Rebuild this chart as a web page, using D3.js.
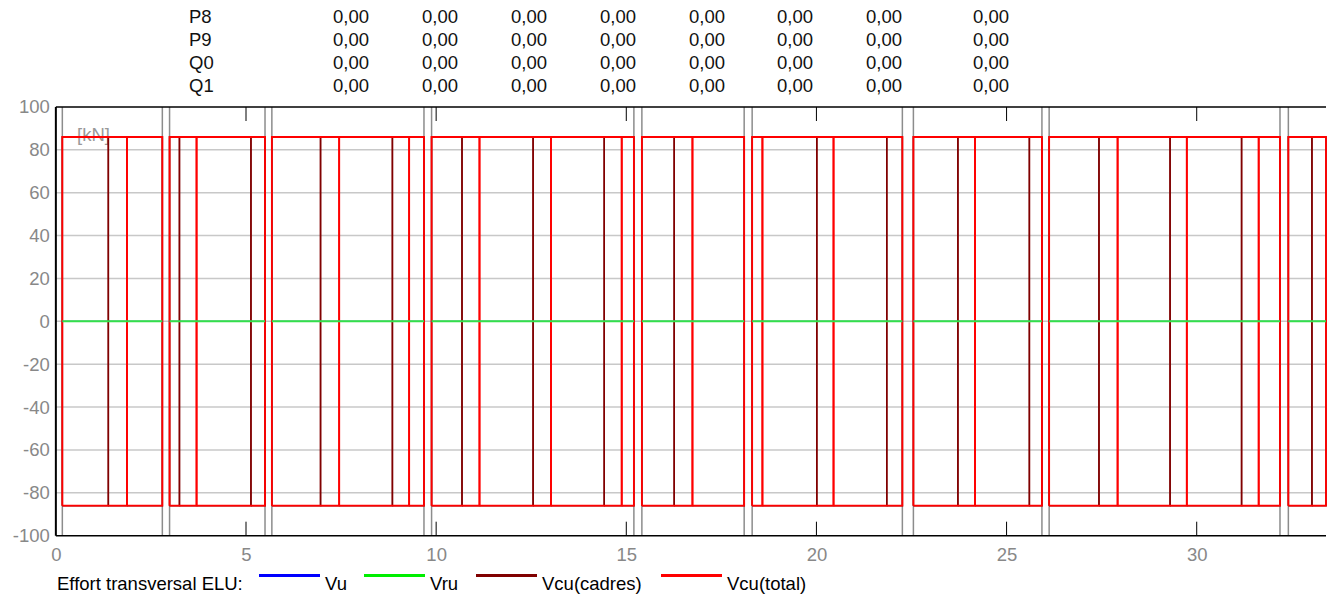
<!DOCTYPE html>
<html>
<head>
<meta charset="utf-8">
<script src="https://cdn.jsdelivr.net/npm/d3@7"></script>
<style>
  body { margin: 0; background: #fff; }
  svg { display: block; font-family: "Liberation Sans", Arial, sans-serif; }
</style>
</head>
<body>
<svg id="chart" width="1334" height="599"></svg>
<script>
// table above the chart
var tableRows = ["P8", "P9", "Q0", "Q1"];
var tableValues = [
  [0, 0, 0, 0, 0, 0, 0, 0],
  [0, 0, 0, 0, 0, 0, 0, 0],
  [0, 0, 0, 0, 0, 0, 0, 0],
  [0, 0, 0, 0, 0, 0, 0, 0]
];

// supports (gray verticals), in m
var supports = [0.17, 2.80, 2.99, 5.50, 5.68, 9.68, 9.88, 15.20, 15.41, 18.10,
  18.31, 22.26, 22.55, 25.93, 26.12, 32.19, 32.41];

// spans [start, end]
var spans = [[0.17, 2.80], [2.99, 5.50], [5.68, 9.68], [9.88, 15.20], [15.41, 18.10],
  [18.31, 22.26], [22.55, 25.93], [26.12, 32.19], [32.41, 33.40]];

// segment breaks inside each span
var cadresBreaks = [[1.38], [3.25, 5.13], [6.96, 8.85], [10.68, 12.55, 14.42], [16.26],
  [20.01, 21.85], [23.72, 25.60], [27.43, 29.30, 31.18], [33.03]];
var totalBreaks = [[1.87], [3.70], [7.45, 9.29], [11.14, 13.02, 14.88], [16.74],
  [18.58, 20.45], [24.17], [27.92, 29.74, 31.63], []];

// envelope values per span [kN]
var vcuCadres = [86, 86, 86, 86, 86, 86, 86, 86, 86];
var vcuTotal = [86, 86, 86, 86, 86, 86, 86, 86, 86];
var vu = [0, 0, 0, 0, 0, 0, 0, 0, 0];
var vru = [0, 0, 0, 0, 0, 0, 0, 0, 0];

var xTicks = [0, 5, 10, 15, 20, 25, 30];
var yTicks = [-100, -80, -60, -40, -20, 0, 20, 40, 60, 80, 100];

var legendItems = [
  { name: "Vu", color: "#0000ff" },
  { name: "Vru", color: "#00ee00" },
  { name: "Vcu(cadres)", color: "#800000" },
  { name: "Vcu(total)", color: "#ff0000" }
];

(function () {
  var svg = d3.select("#chart");
  var pLeft = 55.86, pRight = 1326, pTop = 107, pBottom = 535.7;
  var fs = "18.5px";

  var x = d3.scaleLinear().domain([0, 33.4]).range([pLeft, pRight]);
  var y = d3.scaleLinear().domain([-100, 100]).range([pBottom, pTop]);

  // table
  var colRight = [369, 458, 547, 636, 725, 813, 902, 1009];
  var rowBase = [23.3, 46, 69, 91.7];
  tableRows.forEach(function (r, i) {
    svg.append("text").attr("x", 189).attr("y", rowBase[i])
      .attr("font-size", fs).attr("fill", "#111").text(r);
    tableValues[i].forEach(function (v, j) {
      svg.append("text").attr("x", colRight[j]).attr("y", rowBase[i])
        .attr("text-anchor", "end").attr("font-size", fs).attr("fill", "#111")
        .text(v.toFixed(2).replace(".", ","));
    });
  });

  // grid
  svg.append("g").selectAll("line").data(yTicks.filter(function (d) { return d > -100 && d < 100; }))
    .enter().append("line")
    .attr("x1", pLeft).attr("x2", pRight)
    .attr("y1", function (d) { return y(d); }).attr("y2", function (d) { return y(d); })
    .attr("stroke", "#c8c8c8").attr("stroke-width", 1.5);

  // y axis labels (plain hyphen for negatives)
  var yAxis = svg.append("g").attr("transform", "translate(" + pLeft + ",0)")
    .call(d3.axisLeft(y).tickValues(yTicks).tickSize(0).tickPadding(6)
      .tickFormat(function (d) { return String(d); }));
  yAxis.select(".domain").remove();
  yAxis.selectAll("text").attr("font-size", fs).attr("fill", "#888");
  yAxis.attr("font-family", null);

  // x axis labels
  var xAxis = svg.append("g").attr("transform", "translate(0," + pBottom + ")")
    .call(d3.axisBottom(x).tickValues(xTicks).tickSize(0).tickPadding(12));
  xAxis.select(".domain").remove();
  xAxis.selectAll("text").attr("font-size", fs).attr("fill", "#888");
  xAxis.attr("font-family", null);

  // inner ticks top & bottom
  xTicks.slice(1).forEach(function (t) {
    svg.append("line").attr("x1", x(t)).attr("x2", x(t)).attr("y1", pBottom).attr("y2", pBottom - 14)
      .attr("stroke", "#000").attr("stroke-width", 1);
    svg.append("line").attr("x1", x(t)).attr("x2", x(t)).attr("y1", pTop).attr("y2", pTop + 14)
      .attr("stroke", "#000").attr("stroke-width", 1);
  });

  // supports
  svg.append("g").selectAll("line").data(supports).enter().append("line")
    .attr("x1", function (d) { return x(d); }).attr("x2", function (d) { return x(d); })
    .attr("y1", pTop).attr("y2", pBottom)
    .attr("stroke", "#8c8c8c").attr("stroke-width", 1.5);

  // unit label
  svg.append("text").attr("x", 77).attr("y", 141).attr("font-size", fs)
    .attr("fill", "#999").text("[kN]");

  var line = d3.line().x(function (d) { return x(d[0]); }).y(function (d) { return y(d[1]); });

  // draw envelope rectangles for one series
  function drawEnvelope(breaks, values, color, width) {
    var g = svg.append("g");
    spans.forEach(function (s, i) {
      var pts = [s[0]].concat(breaks[i], [s[1]]);
      var v = values[i];
      for (var k = 0; k < pts.length - 1; k++) {
        var a = pts[k], b = pts[k + 1];
        g.append("path")
          .attr("d", line([[a, -v], [a, v], [b, v], [b, -v], [a, -v]]))
          .attr("fill", "none").attr("stroke", color).attr("stroke-width", width);
      }
    });
  }

  drawEnvelope(cadresBreaks, vcuCadres, "#800000", 1.5);
  drawEnvelope(totalBreaks, vcuTotal, "#ff0000", 1.8);

  // zero series
  function drawFlat(values, color, width) {
    spans.forEach(function (s, i) {
      svg.append("path").attr("d", line([[s[0], values[i]], [s[1], values[i]]]))
        .attr("fill", "none").attr("stroke", color).attr("stroke-width", width);
    });
  }
  drawFlat(vu, "#0000ff", 1);
  drawFlat(vru, "#33e04a", 2);

  // frame
  svg.append("line").attr("x1", pLeft).attr("x2", pLeft).attr("y1", pTop).attr("y2", pBottom)
    .attr("stroke", "#000").attr("stroke-width", 2);
  svg.append("line").attr("x1", pLeft).attr("x2", pRight).attr("y1", pBottom).attr("y2", pBottom)
    .attr("stroke", "#000").attr("stroke-width", 1.5);
  svg.append("line").attr("x1", pLeft).attr("x2", pRight).attr("y1", pTop).attr("y2", pTop)
    .attr("stroke", "#000").attr("stroke-width", 1.5);

  // legend
  var legY = 590;
  svg.append("text").attr("x", 57).attr("y", legY).attr("font-size", fs).attr("fill", "#000")
    .text("Effort transversal ELU:");
  var legX = [259, 364, 476, 661];
  legendItems.forEach(function (it, i) {
    svg.append("line").attr("x1", legX[i]).attr("x2", legX[i] + 61)
      .attr("y1", 575.5).attr("y2", 575.5).attr("stroke", it.color).attr("stroke-width", 3);
    svg.append("text").attr("x", legX[i] + 66).attr("y", legY).attr("font-size", fs)
      .attr("fill", "#000").text(it.name);
  });
})();
</script>
</body>
</html>
